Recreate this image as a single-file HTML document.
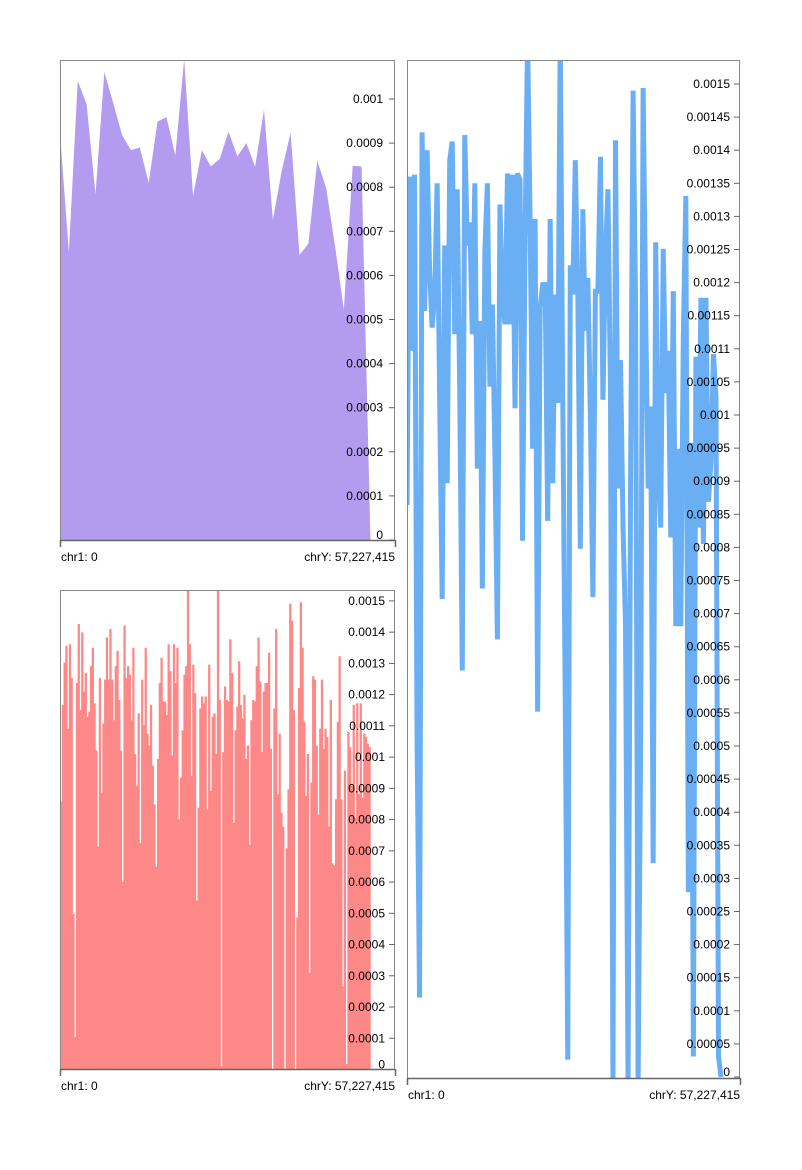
<!DOCTYPE html>
<html><head><meta charset="utf-8">
<style>
html,body{margin:0;padding:0;background:#fff;}
svg{display:block;font-family:"Liberation Sans",Arial,sans-serif;}
</style></head>
<body>
<svg id="chart" width="802" height="1170" viewBox="0 0 802 1170">
<defs>
<clipPath id="clip1"><rect x="60" y="60" width="335" height="480"/></clipPath>
<clipPath id="clip2"><rect x="60" y="590" width="335" height="479.5"/></clipPath>
<clipPath id="clip3"><rect x="407" y="60" width="333" height="1018"/></clipPath>
</defs>
<g id="p1"></g>
<g id="p2"></g>
<g id="p3"></g>
</svg>
<script>
const areaValues=[9.22,6.53,10.41,9.88,7.84,10.61,9.91,9.18,8.84,8.90,8.10,9.49,9.59,8.72,10.91,7.80,8.84,8.47,8.64,9.26,8.70,9.00,8.47,9.76,7.26,8.37,9.24,6.46,6.72,8.60,7.99,6.68,5.22,8.49,8.47,0].map(v=>v*1e-4);
const barValues=[8.59,11.67,13.02,13.56,10.91,13.61,12.53,4.98,1.04,12.37,14.26,11.51,13.99,12.10,12.69,11.29,11.45,12.91,13.50,11.72,10.21,7.14,12.53,8.86,11.08,12.48,13.83,12.48,14.10,12.48,11.18,12.91,13.40,11.83,10.21,6.0,14.21,12.53,12.91,12.64,11.18,13.50,10.1,9.08,11.4,7.25,12.48,11.02,13.5,10.75,10.37,11.67,9.73,8.49,6.49,9.94,12.37,13.18,11.78,11.78,11.35,13.61,12.75,10.05,13.61,12.37,13.5,8.0,9.35,10.86,12.64,12.91,15.34,13.61,9.4,12.96,12.05,5.41,8.38,11.56,11.94,11.72,11.94,8.32,12.96,8.92,11.29,11.4,10.1,15.34,11.83,
0.1,10.16,12.26,11.83,11.78,13.77,12.69,7.89,10.86,11.62,13.07,11.67,11.24,11.99,9.94,10.37,7.19,11.18,11.83,11.78,12.91,13.83,12.42,10.16,12.1,12.37,12.37,13.34,10.27,0,11.56,14.1,8.81,10.75,8.22,7.78,0,7.08,8.97,14.91,14.37,11.51,0,4.87,12.21,14.96,13.5,11.13,8.76,10.1,3.09,9.19,12.59,12.48,10.37,8.16,10.91,12.48,10.27,10.91,10.64,7.78,11.83,6.6,6.54,8.65,11.13,13.23,8.65,2.66,9.57,0.18,10.81,10.32,9.08,11.67,8.05,11.72,8.81,11.72,8.7,10.75,10.64,10.43,10.32,0].map(v=>v*1e-4);
const lineValues=[86.4,136.0,109.7,136.3,51.2,12.0,142.7,115.7,140.0,121.7,113.2,117.7,135.0,102.8,72.2,125.6,89.7,138.5,141.3,112.2,134.1,103.3,61.4,142.3,125.6,129.1,112.2,135.0,91.9,114.2,73.8,124.8,135.0,104.3,116.7,93.9,66.1,131.8,117.7,113.7,136.5,
113.7,136.3,101.0,136.5,135.5,81.0,126.6,157,129.6,94.9,129.6,55.2,116.2,119.7,119.7,84.0,129.6,89.7,118.2,101.8,157,102.8,56.7,2.6,122.6,118.2,138.5,118.2,79.8,131.1,112.7,120.7,99.8,72.5,118.7,118.7,139.0,102.3,124.1,
134.1,103.8,-1,141.5,88.9,108.3,83.0,68.1,-1,89.9,149.0,116.2,-1,49.7,149.4,115.7,88.9,101.3,32.3,126.1,92.9,83.0,125.1,103.3,109.7,81.5,118.7,68.1,94.9,68.1,111.7,133.1,27.9,95.8,3.1,108.8,83.0,117.7,80.5,117.7,86.9,92.9,109.2,102.8,3.1,0].map(v=>v*1e-5);
const ticks1=[0,0.0001,0.0002,0.0003,0.0004,0.0005,0.0006,0.0007,0.0008,0.0009,0.001];
const tickLabels1=["0","0.0001","0.0002","0.0003","0.0004","0.0005","0.0006","0.0007","0.0008","0.0009","0.001"];
const ticks2=[0,0.0001,0.0002,0.0003,0.0004,0.0005,0.0006,0.0007,0.0008,0.0009,0.001,0.0011,0.0012,0.0013,0.0014,0.0015];
const tickLabels2=["0","0.0001","0.0002","0.0003","0.0004","0.0005","0.0006","0.0007","0.0008","0.0009","0.001","0.0011","0.0012","0.0013","0.0014","0.0015"];
const ticks3=[0,0.00005,0.0001,0.00015,0.0002,0.00025,0.0003,0.00035,0.0004,0.00045,0.0005,0.00055,0.0006,0.00065,0.0007,0.00075,0.0008,0.00085,0.0009,0.00095,0.001,0.00105,0.0011,0.00115,0.0012,0.00125,0.0013,0.00135,0.0014,0.00145,0.0015];
const tickLabels3=["0","0.00005","0.0001","0.00015","0.0002","0.00025","0.0003","0.00035","0.0004","0.00045","0.0005","0.00055","0.0006","0.00065","0.0007","0.00075","0.0008","0.00085","0.0009","0.00095","0.001","0.00105","0.0011","0.00115","0.0012","0.00125","0.0013","0.00135","0.0014","0.00145","0.0015"];
const xLabels=["chr1: 0","chrY: 57,227,415"];

const NS="http://www.w3.org/2000/svg";
function mk(tag,attrs,parent){const e=document.createElementNS(NS,tag);for(const k in attrs)e.setAttribute(k,attrs[k]);parent.appendChild(e);return e;}

function frame(g,L,T,R,B,ys,ticks,labels,labelRight,name){
  const f=mk('rect',{x:L+0.5,y:T+0.5,width:R-L-1,height:B-T,fill:'none',stroke:'#888','stroke-width':1},g);
  
  
  const ax=mk('line',{x1:L,x2:R,y1:B+0.5,y2:B+0.5,stroke:'#666','stroke-width':1.5},g);
  
  
  [L,R].forEach(x=>{const t=mk('line',{x1:x+0.5,x2:x+0.5,y1:B,y2:B+7,stroke:'#666','stroke-width':1.5},g);
    
    });
  const l0=mk('text',{x:L+1,y:B+21,'font-size':12,fill:'#000'},g);l0.textContent=xLabels[0];
  
  
  const l1=mk('text',{x:R,y:B+21,'font-size':12,fill:'#000','text-anchor':'end'},g);l1.textContent=xLabels[1];
  
  
  ticks.forEach((v,i)=>{const y=ys(v);
    const t=mk('line',{x1:R-6,x2:R,y1:y,y2:y,stroke:'#666','stroke-width':1},g);
    
    
    const tx=mk('text',{x:labelRight,y:(i===0?y-5:y)+4,'font-size':12,fill:'#000','text-anchor':'end'},g);
    tx.textContent=labels[i];
    
    });
}

// Panel 1 area
(function(){
  const g=document.getElementById('p1');
  const ys=v=>540-v*441000, xs=i=>60+i*8.87;
  let d='M60,540';
  areaValues.forEach((v,i)=>{d+=' L'+xs(i)+','+ys(v);});
  d+=' L'+xs(areaValues.length-1)+',540 Z';
  const a=mk('path',{d:d,fill:'#b39cf0','clip-path':'url(#clip1)'},g);
  
  
  frame(g,60,60,395,540,ys,ticks1,tickLabels1,383,'area');
})();

// Panel 2 bars
(function(){
  const g=document.getElementById('p2');
  const ys=v=>1069.5-v*312400;
  const w=312/barValues.length;
  barValues.forEach((v,i)=>{
    const b=mk('rect',{x:60+i*w,y:ys(v),width:w+0.5,height:Math.max(0,1069.5-ys(v)),fill:'#fd8888','clip-path':'url(#clip2)'},g);
    
    
  });
  frame(g,60,590,395,1069,ys,ticks2,tickLabels2,385,'bar');
})();

// Panel 3 line
(function(){
  const g=document.getElementById('p3');
  const ys=v=>1077-v*662000;
  const step=(721-407)/(lineValues.length-1);
  const pts=lineValues.map((v,i)=>(407+i*step)+','+ys(v)).join(' ');
  const p=mk('polyline',{points:pts,fill:'none',stroke:'#6aaff3','stroke-width':5,'stroke-linejoin':'miter','stroke-miterlimit':2,'clip-path':'url(#clip3)'},g);
  
  
  frame(g,407,60,740,1078,ys,ticks3,tickLabels3,730,'line');
})();
</script>
</body></html>
